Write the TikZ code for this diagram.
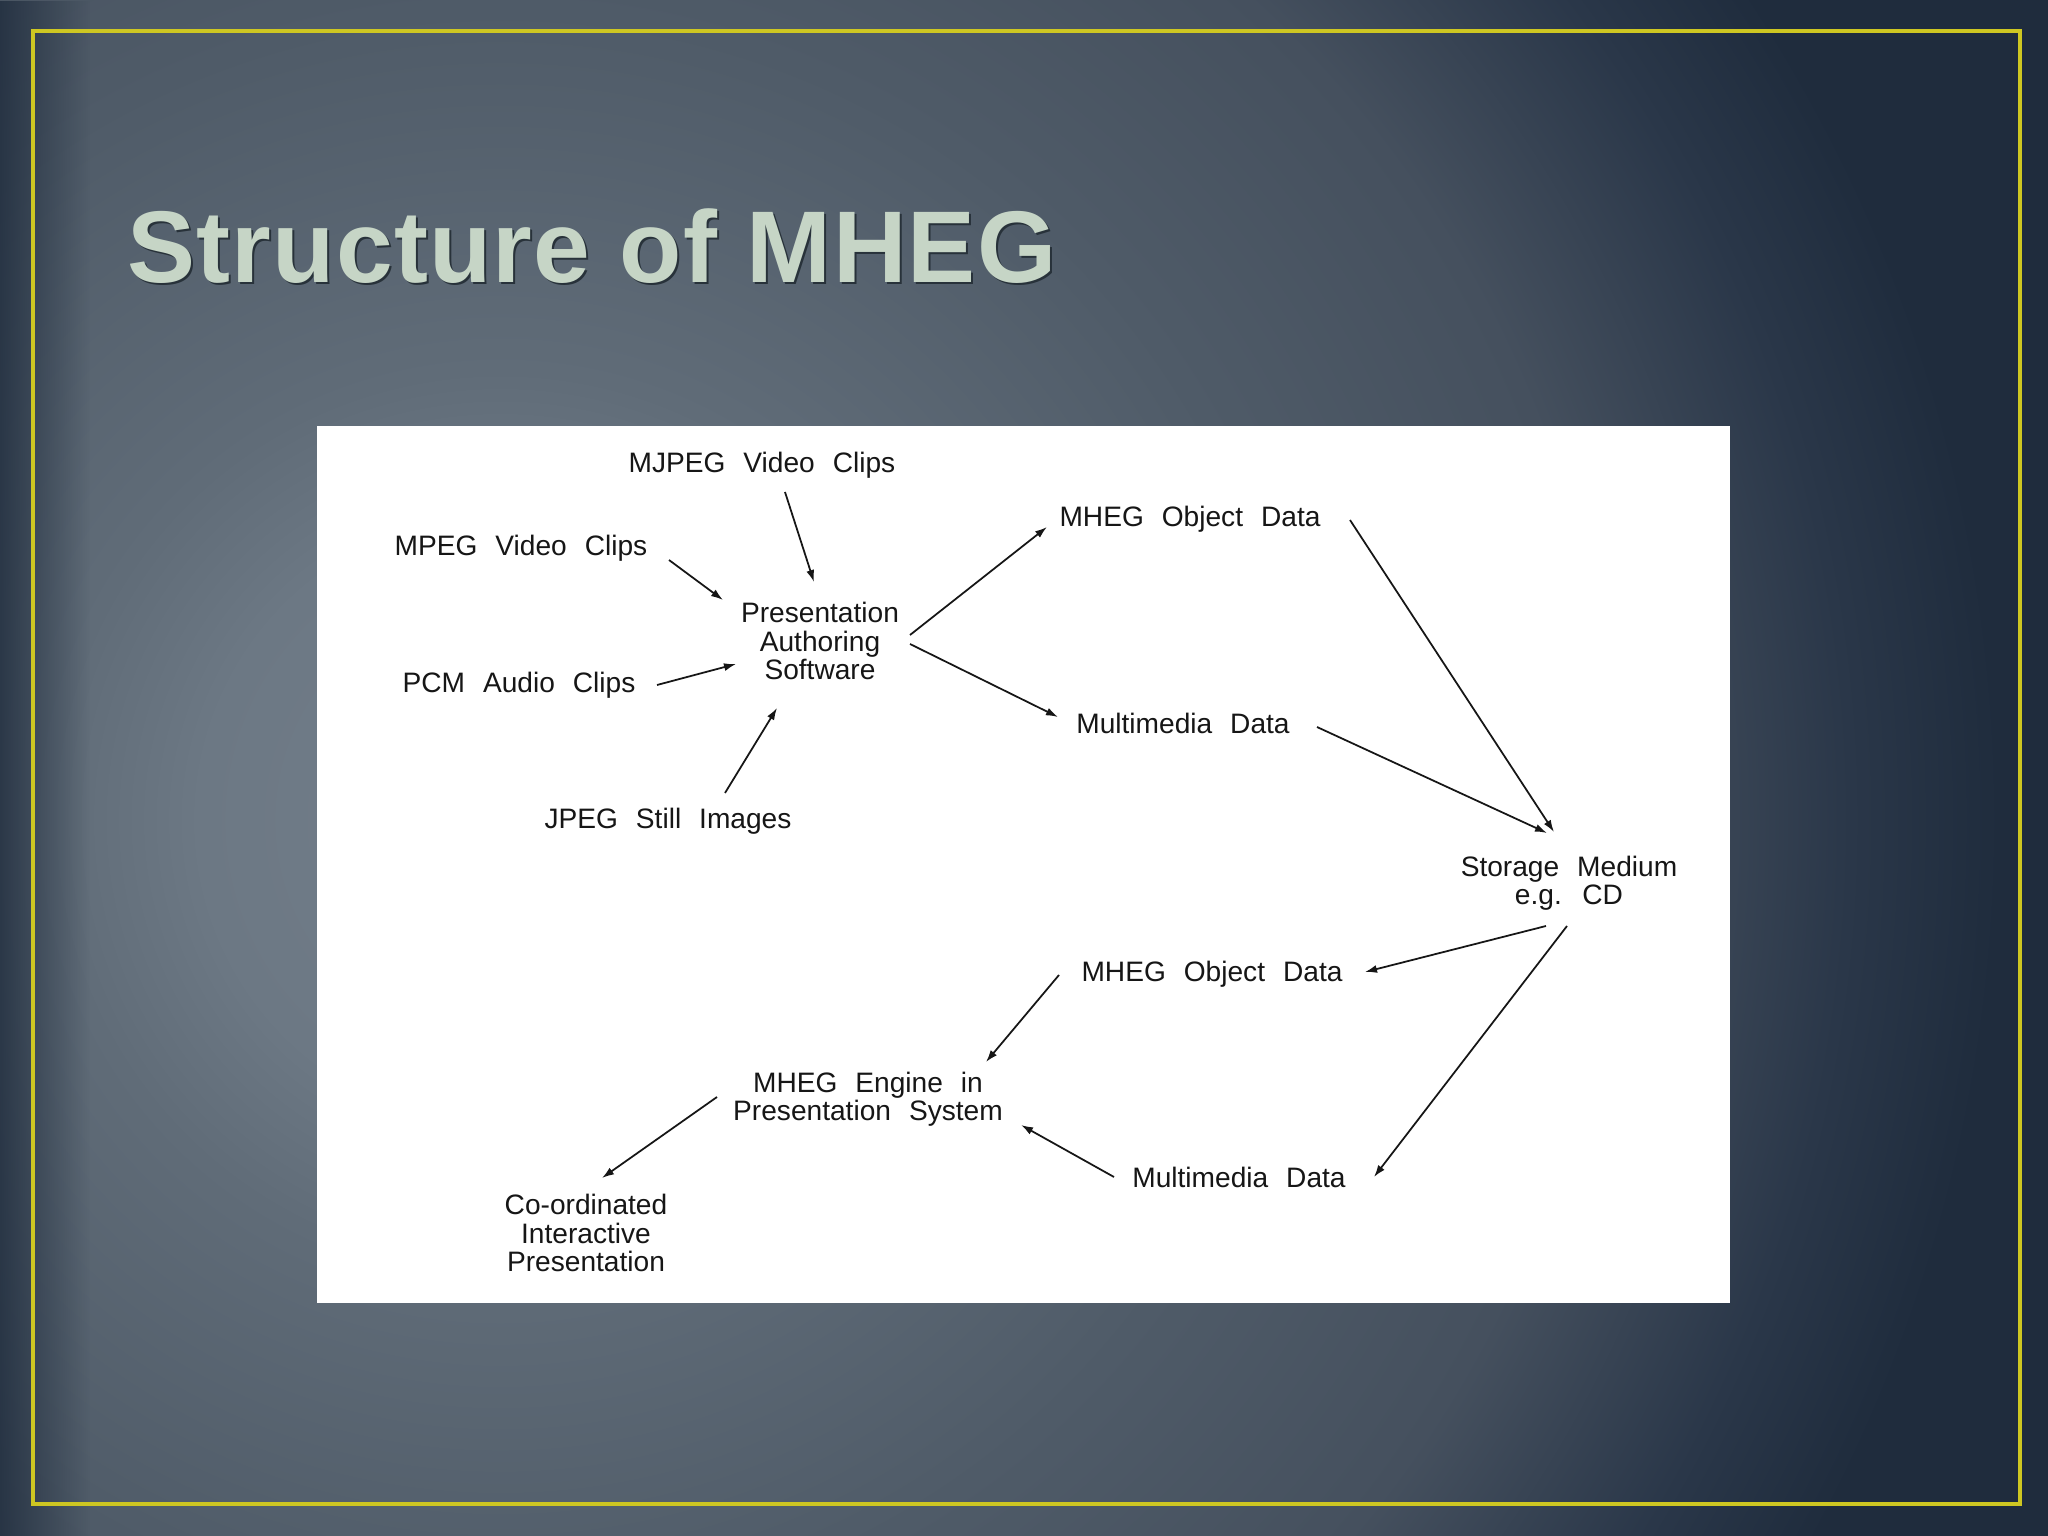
\documentclass[tikz,border=0pt]{standalone}
\usepackage{fontspec}
\setmainfont{Liberation Sans}
\newfontfamily\figfont{Liberation Sans}[WordSpace=2.3]
\newfontfamily\headfont{Liberation Sans}[LetterSpace=1.2]
\usetikzlibrary{arrows.meta,positioning,fadings}
\definecolor{bgc0}{HTML}{737E8A}
\definecolor{bgc1}{HTML}{6C7884}
\definecolor{bgc2}{HTML}{606C78}
\definecolor{bgc3}{HTML}{4F5B68}
\definecolor{bgc4}{HTML}{45505E}
\definecolor{bgc5}{HTML}{2A3749}
\definecolor{bgdark}{HTML}{1F2C3D}
\definecolor{frameyel}{HTML}{CEC722}
\definecolor{titlegreen}{HTML}{C6D5C6}
\definecolor{titleedge}{HTML}{28323A}
\definecolor{inkgray}{HTML}{161616}
\pgfdeclareradialshading{slidebg}{\pgfpoint{0bp}{0bp}}{color(0bp)=(bgc0); color(5bp)=(bgc1);
  color(7.5bp)=(bgc2); color(13.5bp)=(bgc3); color(18.5bp)=(bgc4); color(22.5bp)=(bgc5);
  color(25bp)=(bgdark); color(50bp)=(bgdark)}
\tikzfading[name=edgefade, left color=transparent!0, right color=transparent!100]

\begin{document}
\begin{tikzpicture}[
  lbl/.style={inner sep=0pt, text=inkgray,
              font=\figfont\fontsize{8}{8.1}\selectfont,
              text height=5.8pt, text depth=0pt},
  mlbl/.style={inner sep=0pt, text=inkgray, align=center,
               font=\figfont\fontsize{8}{8.1}\selectfont},
  slidetitle/.style={inner sep=0pt, anchor=base west,
                     font=\headfont\fontsize{29}{34}\selectfont\bfseries},
  arr/.style={-{Latex[length=1.2mm,width=0.8mm]}, line width=0.5pt, inkgray}
]
\useasboundingbox (0,0) rectangle (20.48,-15.36);

% Slide background
\begin{scope}
  \clip (0,0) rectangle (20.48,-15.36);
  \fill[bgdark] (0,0) rectangle (20.48,-15.36);
  \shade[shading=slidebg] (5.0,-8.2) circle (15);
  \fill[bgdark, path fading=edgefade, fill opacity=0.8] (0,0) rectangle (0.9,-15.36);
\end{scope}
\draw[frameyel, line width=1pt] (0.33,-0.31) rectangle (20.20,-15.04);

% Title
\node[slidetitle, text=titleedge] (titleshadow) at (1.29,-2.85) {Structure of MHEG};
\node[slidetitle, text=titlegreen] (title) at (1.27,-2.83) {Structure of MHEG};

% Figure panel
\fill[white] (3.17,-4.26) rectangle (17.30,-13.03);

% Authoring side
\node[lbl] (mjpeg) at (7.62,-4.62) {MJPEG Video Clips};
\node[lbl] (mpeg) at (5.21,-5.45) {MPEG Video Clips};
\node[lbl] (pcm) at (5.19,-6.82) {PCM Audio Clips};
\node[lbl] (jpeg) at (6.68,-8.18) {JPEG Still Images};
\node[mlbl] (pas) at (8.20,-6.41) {Presentation\\Authoring\\Software};
\node[lbl] (objtop) at (11.90,-5.16) {MHEG Object Data};
\node[lbl] (mmtop) at (11.83,-7.23) {Multimedia Data};

% Storage and playback side
\node[mlbl] (store) at (15.69,-8.83) {Storage Medium\\e.g. CD};
\node[lbl] (objbot) at (12.12,-9.71) {MHEG Object Data};
\node[lbl] (mmbot) at (12.39,-11.77) {Multimedia Data};
\node[mlbl] (engine) at (8.68,-10.99) {MHEG Engine in\\Presentation System};
\node[mlbl] (coord) at (5.86,-12.33) {Co-ordinated\\Interactive\\Presentation};

% Arrows
\draw[arr] ([shift={(0.23,-0.30)}]mjpeg.center) -- ([shift={(-0.06,0.59)}]pas.center);
\draw[arr] ([shift={(1.48,-0.15)}]mpeg.center) -- ([shift={(-0.97,0.41)}]pas.center);
\draw[arr] ([shift={(1.38,-0.03)}]pcm.center) -- ([shift={(-0.84,-0.23)}]pas.center);
\draw[arr] ([shift={(0.57,0.25)}]jpeg.center) -- ([shift={(-0.43,-0.67)}]pas.center);
\draw[arr] ([shift={(0.90,0.06)}]pas.center) -- ([shift={(-1.43,-0.11)}]objtop.center);
\draw[arr] ([shift={(0.90,-0.03)}]pas.center) -- ([shift={(-1.25,0.06)}]mmtop.center);
\draw[arr] ([shift={(1.60,-0.04)}]objtop.center) -- ([shift={(-0.15,0.51)}]store.center);
\draw[arr] ([shift={(1.34,-0.04)}]mmtop.center) -- ([shift={(-0.22,0.50)}]store.center);
\draw[arr] ([shift={(-0.23,-0.43)}]store.center) -- ([shift={(1.53,-0.01)}]objbot.center);
\draw[arr] ([shift={(-0.02,-0.43)}]store.center) -- ([shift={(1.35,0)}]mmbot.center);
\draw[arr] ([shift={(-1.53,-0.04)}]objbot.center) -- ([shift={(1.18,0.37)}]engine.center);
\draw[arr] ([shift={(-1.25,0)}]mmbot.center) -- ([shift={(1.53,-0.26)}]engine.center);
\draw[arr] ([shift={(-1.51,0.02)}]engine.center) -- ([shift={(0.16,0.55)}]coord.center);
\end{tikzpicture}
\end{document}
